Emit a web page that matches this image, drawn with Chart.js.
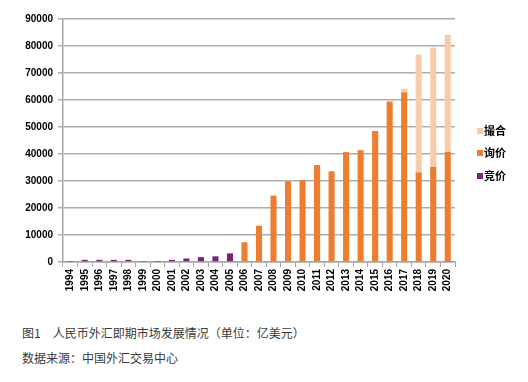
<!DOCTYPE html>
<html>
<head>
<meta charset="utf-8">
<script src="https://cdn.jsdelivr.net/npm/chart.js@4.4.1/dist/chart.umd.min.js"></script>
<style>
  html, body { margin: 0; padding: 0; background: #fff; }
  body { width: 528px; height: 382px; position: relative; overflow: hidden; font-family: "Noto Sans CJK SC", sans-serif; }
  #wrap { position: absolute; left: 0; top: 0; width: 528px; height: 300px; }
  .leg { position: absolute; left: 477px; font: bold 11px "Noto Sans CJK SC", sans-serif; color: #000; line-height: 14px; }
  .leg i { display: inline-block; width: 6px; height: 6px; margin-right: 1px; vertical-align: 1px; }
  .cap { position: absolute; left: 22px; font-size: 12px; color: #3a3a3a; line-height: 16px; white-space: nowrap; }
</style>
</head>
<body>
<div id="wrap"><canvas id="c" width="528" height="300"></canvas></div>
<div id="legend"></div>
<div class="cap" style="top:325px">图1　人民币外汇即期市场发展情况（单位：亿美元）</div>
<div class="cap" style="top:350px">数据来源：中国外汇交易中心</div>
<script>
const years = ["1994","1995","1996","1997","1998","1999","2000","2001","2002","2003","2004","2005","2006","2007","2008","2009","2010","2011","2012","2013","2014","2015","2016","2017","2018","2019","2020"];
const jingjia = [150,800,800,800,800,150,150,800,1300,1800,2100,3200,0,0,0,0,0,0,0,0,0,0,0,0,0,0,400];
const xunjia  = [0,0,0,0,0,0,0,0,0,0,0,0,7300,13450,24600,29900,30300,35900,33600,40700,41400,48500,59400,62900,33200,35200,40400];
const cuohe   = [0,0,0,0,0,0,0,0,0,0,0,0,0,0,0,0,0,0,0,0,0,0,0,1200,43600,44200,43300];
const seriesNames = ["竞价","询价","撮合"];
const colors = ["#7A2479","#ED7D31","#F8CBAD"];
const yTicks = [0,10000,20000,30000,40000,50000,60000,70000,80000,90000];

const ds = [jingjia, xunjia, cuohe].map((d,i)=>({
  label: seriesNames[i], data: d, backgroundColor: colors[i],
  barPercentage: 0.42, categoryPercentage: 1.0, borderWidth: 0
}));

new Chart(document.getElementById('c'), {
  type: 'bar',
  data: { labels: years, datasets: ds },
  options: {
    responsive: false, animation: false,
    layout: { padding: { top: 19, right: 73, left: 0, bottom: 0 } },
    plugins: { legend: { display: false }, tooltip: { enabled: false } },
    scales: {
      x: {
        stacked: true,
        grid: { offset: true, drawOnChartArea: false, drawTicks: true, tickLength: 5, color: '#A6A6A6', lineWidth: 1 },
        border: { color: '#A6A6A6', width: 1.5 },
        ticks: { minRotation: 90, maxRotation: 90, autoSkip: false, color: '#000', padding: 2,
                 font: { family: 'Liberation Sans', weight: 'bold', size: 10 } },
        afterFit: s => { s.height = 38; }
      },
      y: {
        stacked: true, min: 0, max: 90000,
        afterBuildTicks: s => { s.ticks = yTicks.map(v => ({ value: v })); },
        grid: { color: '#ADADAD', lineWidth: 1.5, tickLength: 5 },
        border: { color: '#A6A6A6', width: 1.5 },
        ticks: { color: '#000', padding: 5, callback: v => String(v),
                 font: { family: 'Liberation Sans', weight: 'bold', size: 10 } },
        afterFit: s => { s.width = 63; }
      }
    }
  }
});

const legTops = [168, 145, 123];
const leg = document.getElementById('legend');
seriesNames.forEach((n,i)=>{
  const d = document.createElement('div');
  d.className = 'leg';
  d.style.top = legTops[i] + 'px';
  d.innerHTML = '<i style="background:'+colors[i]+'"></i>' + n;
  leg.appendChild(d);
});
</script>
</body>
</html>
